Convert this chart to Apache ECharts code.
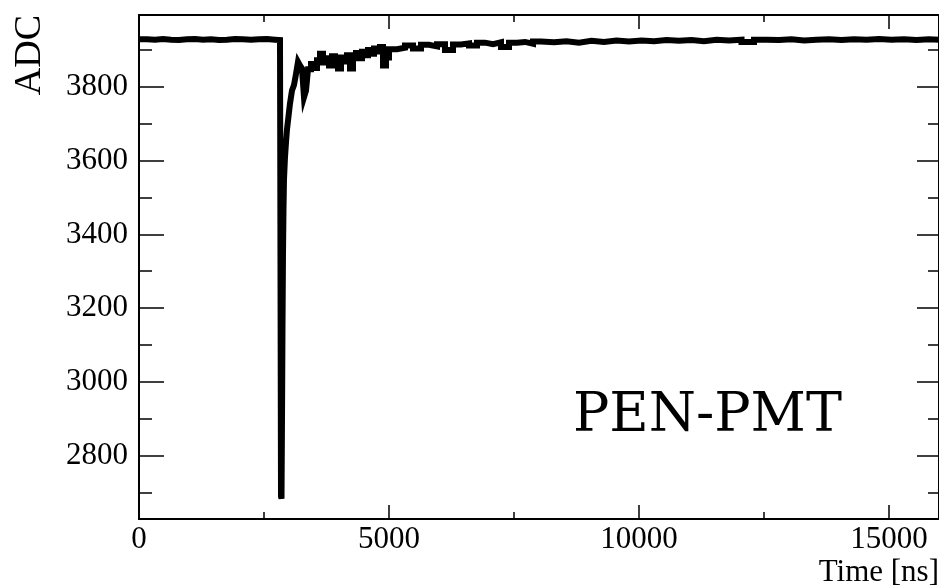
<!DOCTYPE html>
<html>
<head>
<meta charset="utf-8">
<script src="https://cdn.jsdelivr.net/npm/echarts@6/dist/echarts.min.js"></script>
<style>html,body{margin:0;padding:0;background:#fff}#c{width:939px;height:588px}</style>
</head>
<body>
<div id="c"></div>
<script>
// [time ns, ADC]
const waveform = [
[0,3929],[160,3928],[320,3930],[480,3928],[640,3927],[800,3929],[960,3930],[1120,3928],[1280,3929],[1440,3927],
[1600,3928],[1760,3930],[1920,3929],[2080,3928],[2240,3929],[2400,3930],[2560,3928],[2720,3927],[2820,3928],
[2830,3300],[2840,2690],[2850,2683],[2860,2900],[2870,3150],[2880,3350],[2890,3470],[2900,3550],[2920,3610],
[2940,3650],[2960,3685],[2990,3720],[3020,3755],[3060,3790],[3100,3805],[3140,3835],[3180,3868],[3220,3858],
[3260,3850],[3300,3772],[3340,3790],[3380,3848],[3440,3862],[3500,3851],[3560,3872],[3620,3890],[3680,3866],
[3740,3878],[3800,3858],[3860,3883],[3920,3872],[3980,3850],[4040,3880],[4100,3869],[4160,3886],[4220,3850],
[4280,3884],[4340,3892],[4400,3878],[4460,3895],[4520,3886],[4580,3900],[4640,3890],[4700,3904],[4760,3896],
[4820,3908],[4880,3858],[4940,3880],[5000,3902],[5160,3906],[5320,3912],[5480,3904],[5640,3914],[5800,3910],
[5960,3916],[6120,3900],[6280,3915],[6440,3918],[6600,3912],[6760,3920],[6920,3916],[7080,3921],[7240,3908],
[7400,3920],[7560,3922],[7720,3917],[7880,3923],[8040,3921],[8300,3924],[8550,3920],[8800,3925],[9050,3922],
[9300,3926],[9550,3923],[9800,3926],[10050,3924],[10300,3927],[10550,3925],[10800,3927],[11050,3924],[11300,3928],
[11550,3926],[11800,3928],[12050,3922],[12300,3928],[12550,3927],[12800,3929],[13050,3926],[13300,3928],[13550,3929],
[13800,3927],[14050,3929],[14300,3928],[14550,3930],[14800,3928],[15050,3929],[15300,3927],[15550,3929],[15800,3928],[16000,3929]
];
const xMajorTicks = [0, 5000, 10000, 15000];
const xMinorTicks = [0, 2500, 5000, 7500, 10000, 12500, 15000];
const yMajorTicks = [2800, 3000, 3200, 3400, 3600, 3800];
const yMinorTicks = [2700, 2800, 2900, 3000, 3100, 3200, 3300, 3400, 3500, 3600, 3700, 3800, 3900];
const xRange = [0, 16000];
const yRange = [2628, 3995];
const xTitle = 'Time [ns]';
const yTitle = 'ADC';
const label = 'PEN-PMT';

const serif = '"Liberation Serif", "Times New Roman", serif';
const lineStyle = {color: '#000', width: 2};
function xAx(pos, ticks, len, showLabel) {
  return {
    type: 'value', position: pos, min: xRange[0], max: xRange[1],
    axisLine: {show: true, onZero: false, lineStyle},
    axisTick: {show: true, inside: true, length: len, customValues: ticks, lineStyle: {color: '#000', width: 1.5}},
    axisLabel: {show: showLabel, customValues: ticks, color: '#000', fontFamily: serif, fontSize: 31, margin: 5,
      formatter: v => String(v)},
    splitLine: {show: false}
  };
}
function yAx(pos, ticks, len, showLabel) {
  return {
    type: 'value', position: pos, min: yRange[0], max: yRange[1],
    axisLine: {show: true, onZero: false, lineStyle},
    axisTick: {show: true, inside: true, length: len, customValues: ticks, lineStyle: {color: '#000', width: 1.5}},
    axisLabel: {show: showLabel, customValues: ticks, color: '#000', fontFamily: serif, fontSize: 31, margin: 11,
      formatter: v => String(v)},
    splitLine: {show: false}
  };
}
const chart = echarts.init(document.getElementById('c'), null, {renderer: 'canvas'});
chart.setOption({
  animation: false,
  backgroundColor: '#fff',
  grid: {left: 139, right: -3, top: 15, bottom: 69, containLabel: false},
  xAxis: [
    xAx('bottom', xMajorTicks, 14, true),
    xAx('bottom', xMinorTicks, 7, false),
    xAx('top', xMajorTicks, 14, false),
    xAx('top', xMinorTicks, 7, false)
  ],
  yAxis: [
    yAx('left', yMajorTicks, 25, true),
    yAx('left', yMinorTicks, 13, false),
    yAx('right', yMajorTicks, 22, false),
    yAx('right', yMinorTicks, 11, false)
  ],
  series: [{
    type: 'line', xAxisIndex: 0, yAxisIndex: 0, data: waveform, step: 'end',
    showSymbol: false, symbol: 'none',
    lineStyle: {color: '#000', width: 6, join: 'miter'}
  }],
  graphic: [
    {type: 'text', x: 30, y: 15, rotation: Math.PI / 2,
      style: {text: yTitle, font: '38px ' + serif, fill: '#000', align: 'right', verticalAlign: 'middle'}},
    {type: 'text', x: 939, y: 588,
      style: {text: xTitle, font: '31px ' + serif, fill: '#000', align: 'right', verticalAlign: 'bottom'}},
    {type: 'text', x: 573, y: 417,
      style: {text: label, font: '54px "DejaVu Serif", serif', fill: '#000', align: 'left', verticalAlign: 'middle'}}
  ]
});
</script>
</body>
</html>
